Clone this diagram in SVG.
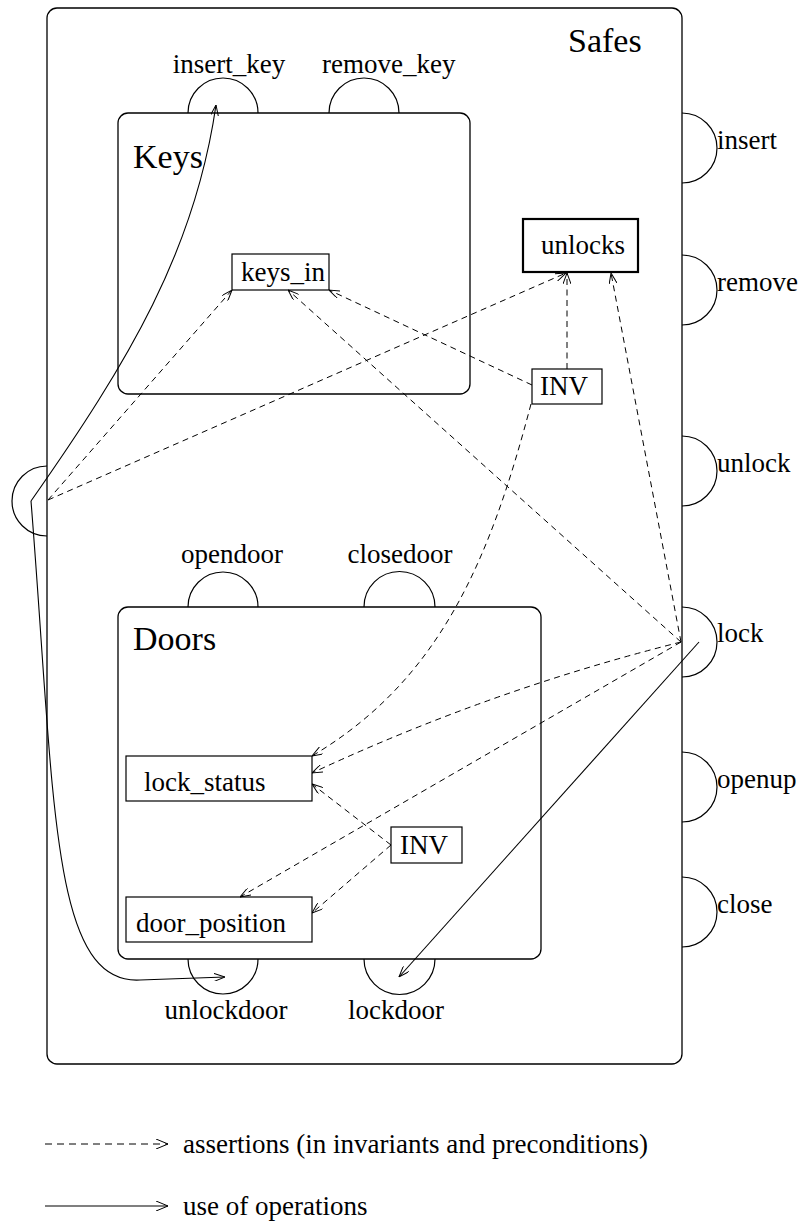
<svg xmlns="http://www.w3.org/2000/svg" width="804" height="1224" viewBox="0 0 804 1224">
  <style>
    text { font-family: "Liberation Serif", "Times New Roman", serif; fill: #000; }
    .lbl { font-size: 27px; }
    .title { font-size: 34px; }
    .frame { fill: none; stroke: #000; stroke-width: 1.3; }
    .op { fill: none; stroke: #000; stroke-width: 1.2; }
    .box { fill: #fff; stroke: #000; stroke-width: 1.2; }
    .boxb { fill: #fff; stroke: #000; stroke-width: 2.2; }
    .dash { fill: none; stroke: #000; stroke-width: 1; stroke-dasharray: 6 4.5; }
    .solid { fill: none; stroke: #000; stroke-width: 1.1; }
  </style>
  <defs>
    <marker id="arr" viewBox="0 0 11 8" refX="11" refY="4" markerWidth="11" markerHeight="8" markerUnits="userSpaceOnUse" orient="auto">
      <path d="M0,0 L11,4 L0,8" fill="none" stroke="#000" stroke-width="1" stroke-dasharray="none"/>
    </marker>
    <marker id="arrL" viewBox="0 0 12 10" refX="12" refY="5" markerWidth="12" markerHeight="10" markerUnits="userSpaceOnUse" orient="auto">
      <path d="M0,0 L12,5 L0,10" fill="none" stroke="#000" stroke-width="1" stroke-dasharray="none"/>
    </marker>
  </defs>

  <!-- outer class -->
  <g id="safes">
    <rect class="frame" x="47" y="8" width="635" height="1056" rx="10" ry="10"/>
    <text class="title" x="568" y="52">Safes</text>
  </g>

  <!-- operations on the outer class (right edge) -->
  <g id="op-insert">
    <path class="op" d="M682,113 A35,35 0 0 1 682,183"/>
    <text class="lbl" x="717" y="149">insert</text>
  </g>
  <g id="op-remove">
    <path class="op" d="M682,255 A35,35 0 0 1 682,325"/>
    <text class="lbl" x="717" y="291">remove</text>
  </g>
  <g id="op-unlock">
    <path class="op" d="M682,436 A35,35 0 0 1 682,506"/>
    <text class="lbl" x="717" y="472">unlock</text>
  </g>
  <g id="op-lock">
    <path class="op" d="M682,607 A35,35 0 0 1 682,677"/>
    <text class="lbl" x="717" y="642">lock</text>
  </g>
  <g id="op-openup">
    <path class="op" d="M682,752 A35,35 0 0 1 682,822"/>
    <text class="lbl" x="717" y="788">openup</text>
  </g>
  <g id="op-close">
    <path class="op" d="M682,877 A35,35 0 0 1 682,947"/>
    <text class="lbl" x="717" y="913">close</text>
  </g>
  <g id="op-left">
    <path class="op" d="M47,466 A35,35 0 0 0 47,536"/>
  </g>

  <!-- Keys component -->
  <g id="keys">
    <rect class="frame" x="118" y="113" width="352" height="281" rx="10" ry="10"/>
    <text class="title" x="133" y="168">Keys</text>
  </g>
  <g id="op-insert_key">
    <path class="op" d="M188,113 A35,35 0 0 1 258,113"/>
    <text class="lbl" x="229" y="73" text-anchor="middle">insert_key</text>
  </g>
  <g id="op-remove_key">
    <path class="op" d="M329,113 A35,35 0 0 1 399,113"/>
    <text class="lbl" x="322" y="73">remove_key</text>
  </g>

  <!-- Doors component -->
  <g id="doors">
    <rect class="frame" x="118" y="607" width="423" height="352" rx="10" ry="10"/>
    <text class="title" x="133" y="650">Doors</text>
  </g>
  <g id="op-opendoor">
    <path class="op" d="M188,607 A35,35 0 0 1 258,607"/>
    <text class="lbl" x="232" y="563" text-anchor="middle">opendoor</text>
  </g>
  <g id="op-closedoor">
    <path class="op" d="M364,607 A35,35 0 0 1 435,607"/>
    <text class="lbl" x="400" y="563" text-anchor="middle">closedoor</text>
  </g>
  <g id="op-unlockdoor">
    <path class="op" d="M188,959 A35,35 0 0 0 258,959"/>
    <text class="lbl" x="226" y="1019" text-anchor="middle">unlockdoor</text>
  </g>
  <g id="op-lockdoor">
    <path class="op" d="M364,959 A35,35 0 0 0 435,959"/>
    <text class="lbl" x="396" y="1019" text-anchor="middle">lockdoor</text>
  </g>

  <!-- state and invariant boxes -->
  <g id="keys_in">
    <rect class="box" x="232" y="254" width="97" height="36"/>
    <text class="lbl" x="241" y="281">keys_in</text>
  </g>
  <g id="unlocks">
    <rect class="boxb" x="523" y="219" width="115" height="53"/>
    <text class="lbl" x="541" y="254">unlocks</text>
  </g>
  <g id="inv-safes">
    <rect class="box" x="532" y="369" width="70" height="35"/>
    <text class="lbl" x="540" y="395">INV</text>
  </g>
  <g id="lock_status">
    <rect class="box" x="126" y="756" width="186" height="45"/>
    <text class="lbl" x="144" y="791">lock_status</text>
  </g>
  <g id="inv-doors">
    <rect class="box" x="391" y="827" width="71" height="36"/>
    <text class="lbl" x="400" y="854">INV</text>
  </g>
  <g id="door_position">
    <rect class="box" x="126" y="897" width="186" height="45"/>
    <text class="lbl" x="136" y="932">door_position</text>
  </g>

  <!-- connectors -->
  <g id="connectors">
    <!-- assertions -->
    <path class="dash" d="M48,500 L232,290" marker-end="url(#arr)"/>
    <path class="dash" d="M48,500 L566,273" marker-end="url(#arr)"/>
    <path class="dash" d="M532,385 L329,290" marker-end="url(#arr)"/>
    <path class="dash" d="M567,369 L567,273" marker-end="url(#arr)"/>
    <path class="dash" d="M531,404 C490,560 440,680 312,756" marker-end="url(#arr)"/>
    <path class="dash" d="M681,642 L288,290" marker-end="url(#arr)"/>
    <path class="dash" d="M681,642 L611,273" marker-end="url(#arr)"/>
    <path class="dash" d="M681,642 Q490,690 312,773" marker-end="url(#arr)"/>
    <path class="dash" d="M681,642 L240,897" marker-end="url(#arr)"/>
    <path class="dash" d="M391,845 L312,784" marker-end="url(#arr)"/>
    <path class="dash" d="M391,845 L312,913" marker-end="url(#arr)"/>
    <!-- operation calls -->
    <path class="solid" d="M31,501 C130,360 195,250 216,105" marker-end="url(#arr)"/>
    <path class="solid" d="M31,501 C55,800 50,985 140,980 L225,977" marker-end="url(#arr)"/>
    <path class="solid" d="M699,642 L399,977" marker-end="url(#arr)"/>
  </g>

  <!-- legend -->
  <g id="legend">
    <path class="dash" d="M45,1144 L168,1144" style="stroke-dasharray:7 5" marker-end="url(#arrL)"/>
    <text class="lbl" x="183" y="1153">assertions (in invariants and preconditions)</text>
    <path class="solid" d="M45,1206 L168,1206" marker-end="url(#arrL)"/>
    <text class="lbl" x="183" y="1215">use of operations</text>
  </g>
</svg>
